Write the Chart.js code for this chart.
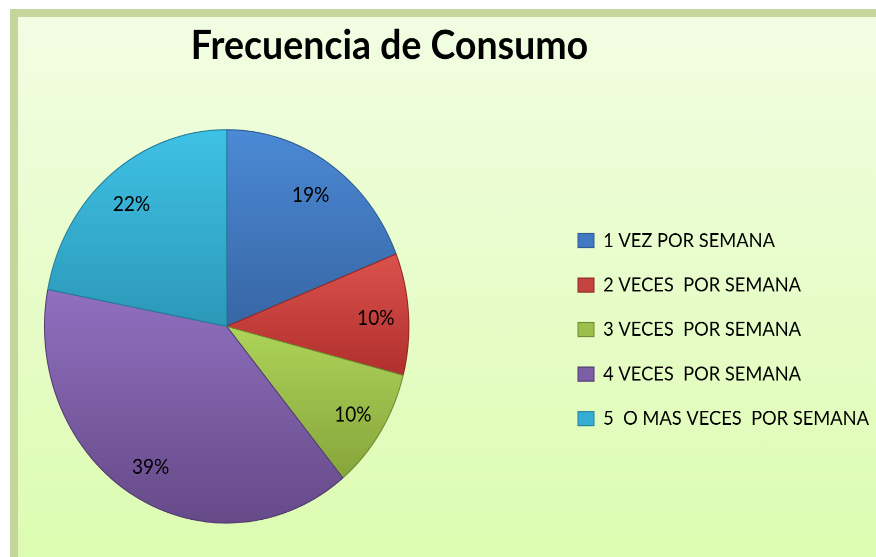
<!DOCTYPE html>
<html>
<head>
<meta charset="utf-8">
<script src="https://cdn.jsdelivr.net/npm/chart.js@4.4.1/dist/chart.umd.min.js"></script>
<style>
html,body{margin:0;padding:0;width:876px;height:557px;overflow:hidden;background:#ffffff;}
#frame{position:absolute;left:10px;top:9px;width:900px;height:600px;box-sizing:border-box;
  border-left:8px solid #c4d69c;border-top:8px solid #c4d69c;
  background:linear-gradient(to bottom,#f2fde3 0px,#dcfcb0 548px);}
#wrap{position:absolute;left:0;top:0;width:876px;height:516px;transform:scaleY(1.0795);transform-origin:0 0;}
canvas{display:block;}
</style>
</head>
<body>
<div id="frame"></div>
<div id="wrap"><canvas id="c" width="876" height="516" style="width:876px;height:516px"></canvas></div>
<script>
// ---- data ----
const titleText = "Frecuencia de Consumo";
const categories = [
  "1 VEZ POR SEMANA",
  "2 VECES  POR SEMANA",
  "3 VECES  POR SEMANA",
  "4 VECES  POR SEMANA",
  "5  O MAS VECES  POR SEMANA"
];
const percentages = [19, 10, 10, 39, 22];

// ---- style ----
const sliceColors = [
  ["#4c8ad6", "#3766a4"],
  ["#dc524d", "#b0302d"],
  ["#aed45a", "#86a53b"],
  ["#9070c0", "#664a88"],
  ["#3fc2e6", "#2c98b8"]
];
const sliceBorders = ["#2f5c92", "#8e2a27", "#6f8a30", "#523a72", "#237f9c"];
const legendColors = ["#4279c2", "#c4433f", "#9cc04c", "#7c5ea6", "#34aed2"];

const legendFontSize = 18.3;
const legendBoxW = 16, legendBoxH = 13, legendPad = 22.9;
const legendBoxX = 578;      // desired left edge of legend boxes
const pieCenterX = 226.7;
const titleCenterX = 389.5;

const mctx = document.createElement('canvas').getContext('2d');
mctx.font = legendFontSize + "px Lato";
const maxText = Math.max(...categories.map(t => mctx.measureText(t).width));
const maxItemW = legendBoxW + legendFontSize / 2 + maxText;
const legendLeft = legendBoxX - legendPad;
const padRight = 876 - (legendLeft + legendPad + maxItemW + 10);
const padLeft = 2 * titleCenterX - (876 - padRight);

function sliceFill(context) {
  const i = context.dataIndex;
  const chart = context.chart;
  const ca = chart.chartArea;
  if (!ca || i === undefined) return sliceColors[0][0];
  const cx = (ca.left + ca.right) / 2, cy = (ca.top + ca.bottom) / 2;
  const r = Math.min(ca.right - ca.left, ca.bottom - ca.top) / 2;
  const total = percentages.reduce((a, b) => a + b, 0);
  let before = 0;
  for (let k = 0; k < i; k++) before += percentages[k];
  const a0 = -Math.PI / 2 + 2 * Math.PI * before / total;
  const a1 = a0 + 2 * Math.PI * percentages[i] / total;
  let minY = cy, maxY = cy;
  for (let k = 0; k <= 40; k++) {
    const a = a0 + (a1 - a0) * k / 40;
    const yy = cy + Math.sin(a) * r;
    minY = Math.min(minY, yy); maxY = Math.max(maxY, yy);
  }
  const g = chart.ctx.createLinearGradient(0, minY, 0, maxY);
  g.addColorStop(0, sliceColors[i][0]);
  g.addColorStop(1, sliceColors[i][1]);
  return g;
}

// place the pie's square area left of the legend
const pieAreaPlugin = {
  id: 'pieArea',
  afterLayout(chart) {
    const ca = chart.chartArea;
    const h = ca.bottom - ca.top;
    ca.left = pieCenterX - h / 2;
    ca.right = pieCenterX + h / 2;
    ca.width = h;
  }
};

const shadowPlugin = {
  id: 'pieShadow',
  beforeDatasetsDraw(chart) {
    const arc = chart.getDatasetMeta(0).data[0];
    if (!arc) return;
    const c = chart.ctx;
    c.save();
    c.shadowColor = 'rgba(40,60,20,0.45)';
    c.shadowBlur = 8;
    c.shadowOffsetX = 3000;
    c.shadowOffsetY = 4;
    c.beginPath();
    c.arc(arc.x - 3000, arc.y, arc.outerRadius, 0, Math.PI * 2);
    c.fillStyle = '#000';
    c.fill();
    c.restore();
  }
};

const labelPlugin = {
  id: 'sliceLabels',
  afterDatasetsDraw(chart) {
    const meta = chart.getDatasetMeta(0);
    const c = chart.ctx;
    c.save();
    c.font = "19px Lato";
    c.fillStyle = "#000";
    c.textAlign = "center";
    c.textBaseline = "middle";
    meta.data.forEach((arc, i) => {
      const mid = (arc.startAngle + arc.endAngle) / 2;
      const r = arc.outerRadius * 0.82;
      c.fillText(percentages[i] + "%", arc.x + Math.cos(mid) * r, arc.y + Math.sin(mid) * r + 2);
    });
    c.restore();
  }
};

new Chart(document.getElementById('c'), {
  type: 'pie',
  data: {
    labels: categories,
    datasets: [{
      data: percentages,
      backgroundColor: sliceFill,
      borderColor: sliceBorders,
      borderWidth: 1
    }]
  },
  options: {
    responsive: false,
    animation: false,
    devicePixelRatio: 2,
    layout: { padding: { top: 9, bottom: 31, left: padLeft, right: padRight } },
    plugins: {
      tooltip: { enabled: false },
      title: {
        display: true,
        text: titleText,
        color: '#000',
        font: { family: 'Lato', size: 37.5, weight: 'bold', lineHeight: 1.2 },
        padding: { top: 11, bottom: 54.6 }
      },
      legend: {
        position: 'right',
        fullSize: false,
        align: 'center',
        title: { display: true, text: ' ', font: { size: 1, lineHeight: 1 }, padding: { top: 2, bottom: 3 } },
        labels: {
          boxWidth: legendBoxW,
          boxHeight: legendBoxH,
          padding: legendPad,
          color: '#000',
          font: { family: 'Lato', size: legendFontSize },
          generateLabels: (chart) => chart.data.labels.map((t, i) => ({
            text: t,
            fillStyle: legendColors[i],
            strokeStyle: sliceBorders[i],
            fontColor: '#000',
            lineWidth: 1,
            hidden: false,
            index: i
          }))
        }
      }
    }
  },
  plugins: [pieAreaPlugin, shadowPlugin, labelPlugin]
});
</script>
</body>
</html>
